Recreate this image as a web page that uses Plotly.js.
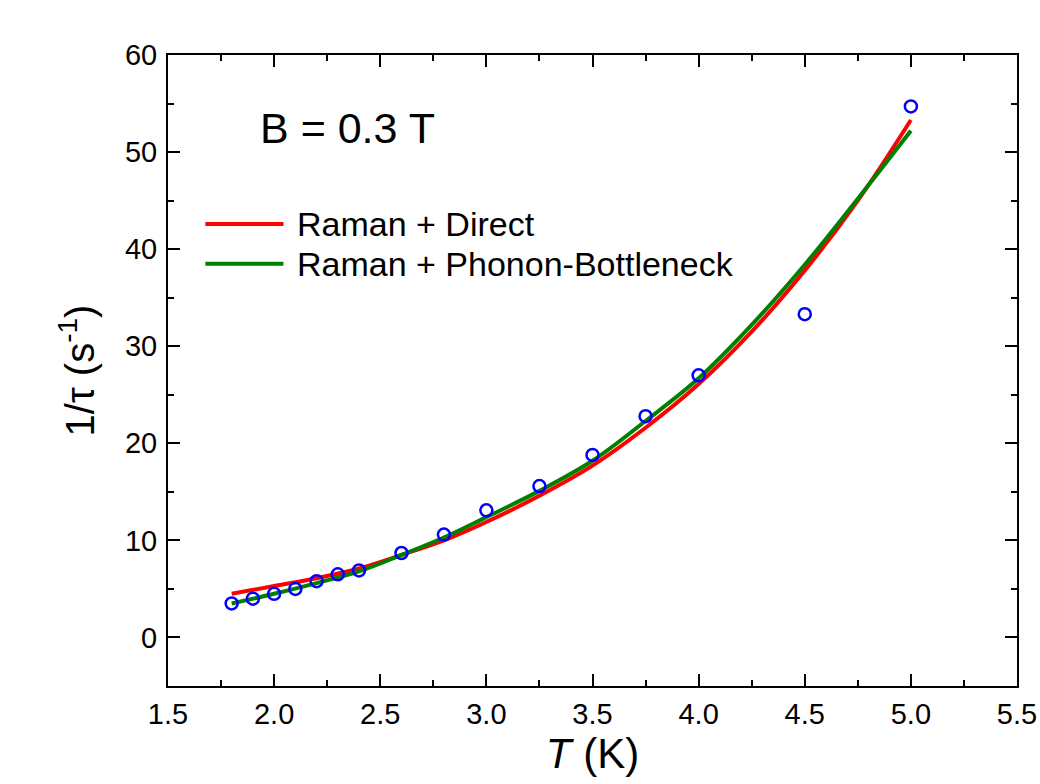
<!DOCTYPE html>
<html>
<head>
<meta charset="utf-8">
<script src="https://cdn.plot.ly/plotly-3.0.1.min.js"></script>
<style>html,body{margin:0;padding:0;background:#fff;}#chart{width:1040px;height:784px;}</style>
</head>
<body>
<div id="chart"></div>
<script>
// Measured relaxation rates
const tempData = [1.8, 1.9, 2.0, 2.1, 2.2, 2.3, 2.4, 2.6, 2.8, 3.0, 3.25, 3.5, 3.75, 4.0, 4.5, 5.0];
const rateData = [3.5, 4.0, 4.5, 5.0, 5.8, 6.5, 6.9, 8.7, 10.6, 13.1, 15.6, 18.8, 22.8, 27.0, 33.3, 54.7];

// Fit curves
const tempFit = [1.8, 2.0, 2.2, 2.4, 2.6, 2.8, 3.0, 3.25, 3.5, 3.75, 4.0, 4.25, 4.5, 4.75, 5.0];
const rateRamanDirect = [4.5, 5.3, 6.1, 7.1, 8.5, 10.0, 11.9, 14.6, 17.7, 21.6, 26.1, 31.5, 37.8, 45.0, 53.3];
const rateRamanPB = [3.5, 4.5, 5.6, 6.8, 8.5, 10.3, 12.4, 15.1, 18.2, 22.3, 26.7, 32.2, 38.4, 45.2, 52.2];

const seriesNames = ["Raman + Direct", "Raman + Phonon-Bottleneck"];
const seriesColors = ["#FF0000", "#008000"];
const xTicks = [1.5, 2.0, 2.5, 3.0, 3.5, 4.0, 4.5, 5.0, 5.5];
const yTicks = [0, 10, 20, 30, 40, 50, 60];

const font = "Arial, 'Liberation Sans', sans-serif";

const traces = [
  {
    x: tempFit, y: rateRamanDirect, mode: "lines", name: seriesNames[0], showlegend: false,
    line: {color: seriesColors[0], width: 4, shape: "spline"}
  },
  {
    x: tempFit, y: rateRamanPB, mode: "lines", name: seriesNames[1], showlegend: false,
    line: {color: seriesColors[1], width: 4, shape: "spline"}
  },
  {
    x: tempData, y: rateData, mode: "markers", name: "data", showlegend: false,
    marker: {symbol: "circle-open", size: 12, color: "#0000FF", line: {color: "#0000FF", width: 2.5}}
  }
];

const minorTicks = {ticks: "inside", ticklen: 6, tickwidth: 2, tickcolor: "#000"};
const axisCommon = {
  showline: true, linecolor: "#000", linewidth: 2, mirror: "allticks",
  ticks: "inside", ticklen: 12, tickwidth: 2, tickcolor: "#000",
  showgrid: false, zeroline: false,
  tickfont: {family: font, size: 29, color: "#000"}
};

// Manual legend (paper coordinates)
const legendY = [0.732, 0.669];
const legendShapes = seriesNames.map((n, i) => ({
  type: "line", xref: "paper", yref: "paper",
  x0: 0.044, x1: 0.136, y0: legendY[i], y1: legendY[i],
  line: {color: seriesColors[i], width: 4}
}));
const legendLabels = seriesNames.map((n, i) => ({
  xref: "paper", yref: "paper", x: 0.149, y: legendY[i], xanchor: "left", yanchor: "middle",
  text: n, showarrow: false, font: {family: font, size: 34, color: "#000"}
}));

const layout = {
  width: 1040, height: 784,
  margin: {l: 168, r: 23, t: 55, b: 98},
  paper_bgcolor: "#fff", plot_bgcolor: "#fff",
  showlegend: false,
  xaxis: Object.assign({}, axisCommon, {
    range: [1.5, 5.5], tickvals: xTicks, ticktext: xTicks.map(v => v.toFixed(1)),
    ticklabelstandoff: 1,
    minor: Object.assign({dtick: 0.25, tick0: 1.5}, minorTicks),
    title: {text: "<i>T</i> (K)", font: {family: font, size: 42, color: "#000"}, standoff: 10}
  }),
  yaxis: Object.assign({}, axisCommon, {
    range: [-5, 60], tickvals: yTicks, ticklabelstandoff: 3,
    minor: Object.assign({dtick: 5, tick0: 0}, minorTicks),
    title: {text: "1/τ (s<sup>-1</sup>)", font: {family: font, size: 40, color: "#000"}, standoff: 18}
  }),
  shapes: legendShapes,
  annotations: [
    {xref: "paper", yref: "paper", x: 0.211, y: 0.884, xanchor: "center", yanchor: "middle",
     text: "B = 0.3 T", showarrow: false, font: {family: font, size: 43, color: "#000"}}
  ].concat(legendLabels)
};

Plotly.newPlot("chart", traces, layout, {displayModeBar: false, staticPlot: true});
</script>
</body>
</html>
